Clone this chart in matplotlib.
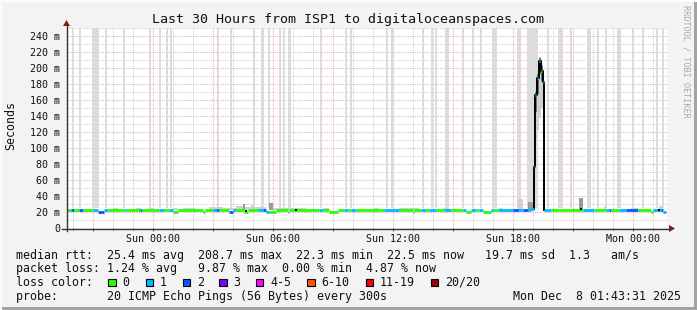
import matplotlib
matplotlib.use('Agg')
import matplotlib.pyplot as plt
from matplotlib.patches import Rectangle, Polygon
from matplotlib.lines import Line2D
from matplotlib.ticker import FuncFormatter, MultipleLocator

W, H = 697, 310
MONO = 'DejaVu Sans Mono'

# time axis in hours relative to Sun 00:00
t_start, t_end = -4.275, 25.725

tick_hours = [0, 6, 12, 18, 24]
tick_labels = ['Sun 00:00', 'Sun 06:00', 'Sun 12:00', 'Sun 18:00', 'Mon 00:00']

loss_colors = ['#26ff00', '#00b8ff', '#0059ff', '#7e00ff', '#ff00ff', '#ff5500', '#ff0000', '#a10000']
loss_labels = ['0', '1', '2', '3', '4-5', '6-10', '11-19', '20/20']

# median rtt, piecewise: breakpoints, value (ms) and loss bucket per segment
med_t = [-4.275, -4.08, -3.92, -3.67, -3.5, -3.0, -2.75, -2.42, -2.25, -1.42,
         -1.33, -0.63, -0.53, 0.33, 0.58, 0.83, 1.0, 1.25, 2.5, 2.63,
         3.0, 3.17, 3.33, 3.83, 4.0, 4.17, 4.58, 4.75, 5.25, 5.5,
         5.67, 5.83, 6.17, 6.75, 6.83, 8.33, 8.5, 8.83, 9.25, 9.58,
         9.75, 9.92, 10.17, 11.58, 12.25, 12.33, 13.0, 13.08, 13.42, 13.67,
         13.83, 14.17, 14.58, 14.92, 15.5, 15.67, 15.92, 16.17, 16.33, 16.5,
         16.92, 17.08, 17.25, 18.0, 18.33, 18.5, 18.75, 18.92, 19.07, 19.58,
         19.92, 21.5, 22.08, 22.67, 22.83, 22.92, 23.33, 23.67, 24.25, 24.92,
         25.0, 25.42, 25.5, 25.65]
med_ms = [22.5, 22.5, 22.5, 22.5, 22.5, 22.5, 20.5, 22.5, 22.5, 22.5,
          22.5, 22.5, 22.5, 22.5, 22.5, 22.5, 20.5, 22.5, 20.5, 22.5,
          22.5, 22.5, 22.5, 20.5, 22.5, 22.5, 20.5, 22.5, 22.5, 22.5,
          20.5, 20.5, 22.5, 20.5, 22.5, 22.5, 22.5, 20.5, 22.5, 22.5,
          22.5, 22.5, 22.5, 22.5, 22.5, 22.5, 20.5, 22.5, 22.5, 22.5,
          22.5, 22.5, 22.5, 22.5, 22.5, 20.5, 22.5, 22.5, 22.5, 20.5,
          22.5, 22.5, 22.5, 22.5, 22.5, 22.5, 22.5, 24.0, None, 22.5,
          22.5, 22.5, 22.5, 22.5, 22.5, 22.5, 22.5, 22.5, 22.5, 20.5,
          22.5, 22.5, 20.5]
med_loss = [0, 2, 0, 2, 0, 1, 2, 1, 0, 1,
            0, 2, 0, 1, 0, 1, 0, 0, 0, 0,
            1, 2, 0, 2, 1, 0, 0, 0, 1, 2,
            1, 0, 0, 1, 0, 1, 0, 0, 0, 1,
            0, 1, 0, 1, 2, 0, 0, 0, 1, 0,
            1, 0, 1, 0, 1, 0, 1, 0, 1, 0,
            1, 0, 1, 2, 1, 2, 1, 1, 0, 1,
            0, 1, 0, 1, 2, 0, 1, 2, 0, 0,
            1, 2, 1]

# the latency spike on Sunday evening
spike_t = [19.0, 19.07, 19.13, 19.23, 19.32, 19.41, 19.5, 19.58]
spike_ms = [24, 76, 166, 187, 209, 196, 183, 22.5]
spike_loss = [1, 1, 1, 1, 0, 0, 1, 1]
spike_lo = [24, 30, 110, 122, 138, 150, 148, 22.5]
spike_hi = [24, 80, 172, 196, 214, 206, 192, 22.5]
spike_dk_lo = [24, 45, 145, 168, 192, 184, 168, 22.5]
spike_dk_hi = [24, 78, 170, 192, 212, 202, 188, 22.5]

# smoke bumps above the median: start, end, top (ms), shade
smoke_t0 = [-2.0, -0.83, -0.25, 1.0, 1.5, 2.83, 3.5, 4.17, 4.5, 4.63, 4.92, 5.0,
            5.83, 6.0, 7.17, 8.5, 11.0, 12.33, 14.5, 17.33, 18.25, 18.75, 21.33, 22.58, 23.92, 25.33]
smoke_t1 = [-1.75, -0.58, 0.08, 1.25, 2.17, 3.5, 4.17, 4.5, 4.63, 4.92, 5.0, 5.67,
            6.0, 7.17, 7.67, 8.83, 11.33, 13.33, 14.83, 17.5, 18.5, 19.0, 21.5, 22.67, 24.25, 25.5]
smoke_top = [25.5, 25, 25, 25, 25, 26.5, 25.5, 27, 30, 26, 28.5, 26,
             31, 25.5, 25, 25, 25, 25.5, 25, 25.5, 36, 32, 37, 28, 25.5, 27]
smoke_dark = [0, 0, 0, 0, 0, 0, 0, 0, 1, 0, 0, 0,
              1, 0, 0, 0, 0, 0, 0, 0, 0, 1, 1, 0, 0, 0]

# intervals with unknown pings (full height light bars)
bar_h = [-4.0, -3.64, -2.83, -2.34, -1.42, -0.14, 0.37, 0.72, 0.92, 3.25,
         3.92, 5.09, 5.5, 5.8, 6.37, 6.59, 6.84, 8.42, 9.67, 9.92,
         11.7, 12.0, 13.5, 13.95, 14.15, 14.74, 15.5, 16.0, 16.42, 17.1,
         18.33, 19.0, 19.75, 20.38, 20.92, 21.83, 22.25, 22.67, 23.33, 24.0,
         24.5, 25.23, 25.53]
bar_w = [0.08, 0.08, 0.35, 0.1, 0.1, 0.1, 0.1, 0.12, 0.1, 0.1,
         0.1, 0.1, 0.17, 0.1, 0.1, 0.1, 0.15, 0.1, 0.1, 0.1,
         0.1, 0.15, 0.1, 0.1, 0.1, 0.2, 0.1, 0.1, 0.1, 0.25,
         0.17, 0.55, 0.1, 0.25, 0.1, 0.17, 0.1, 0.1, 0.17, 0.1,
         0.1, 0.1, 0.1]

dot_t = [4.66, 7.17, 21.4, 25.33]
dot_ms = [21.5, 22.5, 23.5, 22.5]

legend_lines = [
    'median rtt:  25.4 ms avg  208.7 ms max  22.3 ms min  22.5 ms now   19.7 ms sd  1.3   am/s',
    'packet loss: 1.24 % avg   9.87 % max  0.00 % min  4.87 % now',
    'loss color:',
    'probe:       20 ICMP Echo Pings (56 Bytes) every 300s',
]
stamp = 'Mon Dec  8 01:43:31 2025'


def fx(x):
    return x / W


def fy(y):
    return 1 - y / H


fig = plt.figure(figsize=(W / 100, H / 100), dpi=100, facecolor='#f3f3f3')
ax = fig.add_axes([fx(67), fy(228), 600 / W, 200 / H])
ax.set_facecolor('white')
ax.set_xlim(t_start, t_end)
ax.set_ylim(0, 250)
for s in ax.spines.values():
    s.set_visible(False)

# grid
ax.set_axisbelow(True)
ax.xaxis.set_major_locator(MultipleLocator(3))
ax.xaxis.set_minor_locator(MultipleLocator(1))
ax.yaxis.set_major_locator(MultipleLocator(20))
ax.yaxis.set_minor_locator(MultipleLocator(10))
ax.grid(which='major', color='#e8a0a0', linestyle=(0, (0.72, 1.0)), linewidth=0.75)
ax.grid(which='minor', color='#c8c8c8', linestyle=(0, (0.72, 1.0)), linewidth=0.75)

lab = dict(zip(tick_hours, tick_labels))
ax.xaxis.set_major_formatter(FuncFormatter(lambda v, _: lab.get(int(round(v)), '')))
ax.yaxis.set_major_formatter(FuncFormatter(lambda v, _: '0' if v == 0 else '%d m' % v))
ax.tick_params(axis='x', which='major', length=2.5, width=0.7, color='#444444', pad=2,
               labelsize=7.2, labelcolor='#111111')
ax.tick_params(axis='x', which='minor', length=1.5, width=0.7, color='#444444')
ax.tick_params(axis='y', which='both', length=0, pad=5, labelsize=7.2, labelcolor='#111111')
for t in ax.get_xticklabels() + ax.get_yticklabels():
    t.set_family(MONO)

# light bars for missing pings
for h, w in zip(bar_h, bar_w):
    ax.add_patch(Rectangle((h - w / 2, 24.5), w, 250 - 24.5, color='#dcdcdc', lw=0, zorder=1))

# smoke
for t0, t1, top, dk in zip(smoke_t0, smoke_t1, smoke_top, smoke_dark):
    ax.add_patch(Rectangle((t0, 22.5), t1 - t0, top - 22.5,
                           color='#9a9a9a' if dk else '#d0d0d0', lw=0, zorder=2))

ax.fill_between(spike_t, spike_lo, spike_hi, step='post', color='#cfcfcf', lw=0, zorder=2)
ax.fill_between(spike_t, spike_dk_lo, spike_dk_hi, step='post', color='#707070', lw=0, zorder=2)
ax.plot(spike_t, spike_ms, drawstyle='steps-post', color='black', lw=1.4, zorder=3)

# median line colored by loss
for i, v in enumerate(med_ms):
    if v is None:
        continue
    ax.plot([med_t[i], med_t[i + 1]], [v, v], color=loss_colors[med_loss[i]],
            lw=2.0, solid_capstyle='butt', zorder=4)
for i in range(1, len(spike_t) - 1):
    ax.plot([spike_t[i], spike_t[i] + 0.05], [spike_ms[i], spike_ms[i]],
            color=loss_colors[spike_loss[i]], lw=2.0, solid_capstyle='butt', zorder=5)
ax.scatter(dot_t, dot_ms, s=3, marker='s', color='black', zorder=5, lw=0)

# axes with arrows
fig.add_artist(Line2D([fx(62), fx(670)], [fy(228.5), fy(228.5)], color='#333333', lw=1.0))
fig.add_artist(Polygon([[fx(669), fy(225)], [fx(675), fy(228.5)], [fx(669), fy(232)]],
                       closed=True, color='#8b1a1a', lw=0))
fig.add_artist(Line2D([fx(66.5), fx(66.5)], [fy(231), fy(25)], color='#333333', lw=1.0))
fig.add_artist(Polygon([[fx(63), fy(26)], [fx(66.5), fy(20)], [fx(70), fy(26)]],
                       closed=True, color='#8b1a1a', lw=0))

# frame shading
fig.add_artist(Rectangle((0, 0), 1, 3 / H, transform=fig.transFigure, color='#a3a3a3', lw=0))
fig.add_artist(Rectangle((1 - 3 / W, 0), 3 / W, 1, transform=fig.transFigure, color='#a3a3a3', lw=0))
fig.add_artist(Rectangle((0, 1 - 2 / H), 1, 2 / H, transform=fig.transFigure, color='#fcfcfc', lw=0))
fig.add_artist(Rectangle((0, 0), 2 / W, 1, transform=fig.transFigure, color='#fcfcfc', lw=0))

# texts
fig.text(fx(348), fy(19), 'Last 30 Hours from ISP1 to digitaloceanspaces.com',
         family=MONO, fontsize=9.6, ha='center', va='center', color='#111111')
fig.text(fx(11), fy(126), 'Seconds', family=MONO, fontsize=8.4, rotation=90,
         ha='center', va='center', color='#111111')
fig.text(fx(686), fy(5), 'RRDTOOL / TOBI OETIKER', family=MONO, fontsize=6.1,
         rotation=-90, ha='center', va='top', color='#a8a8a8')

line_y = [255, 268.5, 282.3, 296.5]
for txt, y in zip(legend_lines, line_y):
    fig.text(fx(16), fy(y), txt, family=MONO, fontsize=8.37, ha='left', va='center', color='#111111')
fig.text(fx(681), fy(296.5), stamp, family=MONO, fontsize=8.37, ha='right', va='center', color='#111111')

box_x = [108.3, 145.7, 182.7, 219, 255.7, 307.3, 365.7, 430.7]
for bx, col, lb in zip(box_x, loss_colors, loss_labels):
    fig.add_artist(Rectangle((fx(bx), fy(286)), 7.5 / W, 7.5 / H, transform=fig.transFigure,
                             facecolor=col, edgecolor='black', lw=0.8))
    fig.text(fx(bx + 14.3), fy(282.3), lb, family=MONO, fontsize=8.37, ha='left', va='center',
             color='#111111')

fig.savefig('out.png', dpi=100, facecolor=fig.get_facecolor())
